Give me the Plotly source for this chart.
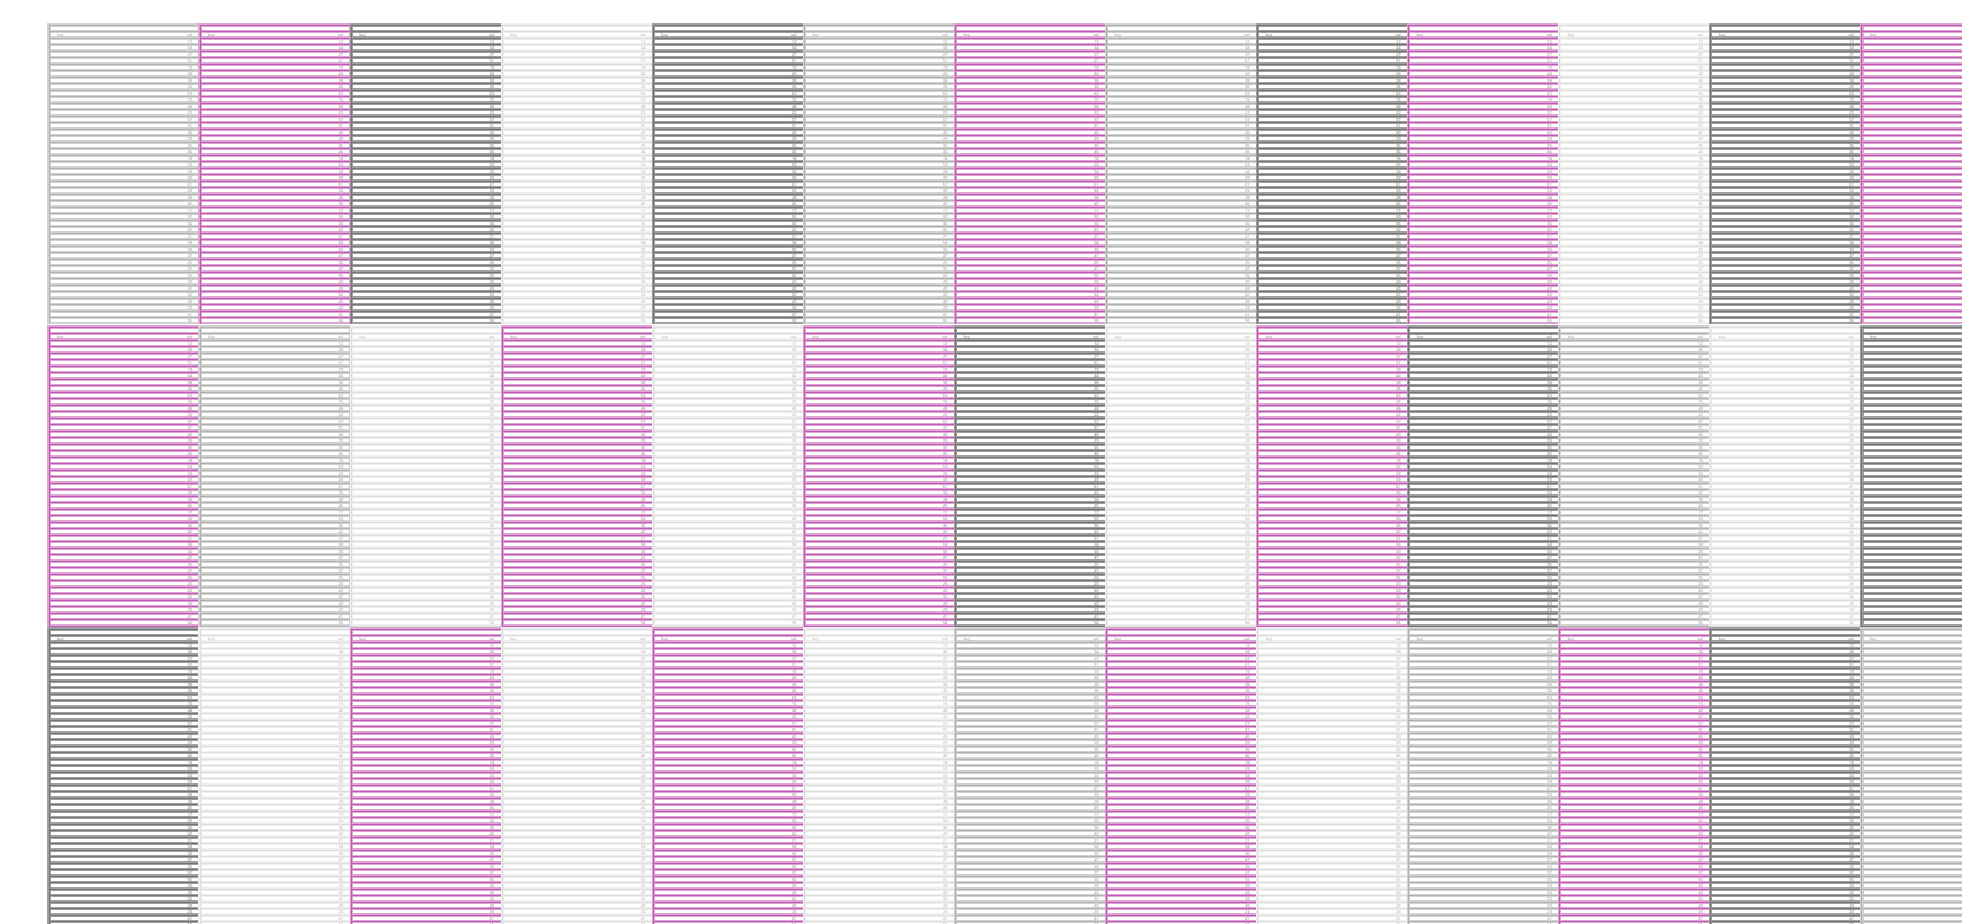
import plotly.graph_objects as go

# ---- data ----
row_labels = ["a01", "a02", "a03", "a04", "a05", "a06", "a07", "a08", "a09", "a10",
              "a11", "a12", "a13", "a14", "a15", "a16", "a17", "a18", "a19", "a20",
              "a21", "a22", "a23", "a24", "a25", "a26", "a27", "a28", "a29", "a30",
              "a31", "a32", "a33", "a34", "a35", "a36", "a37", "a38", "a39", "a40",
              "a41", "a42", "a43", "a44", "a45"]
row_values = ["12", "34", "27", "51", "19", "44", "38", "26", "63", "15",
              "48", "22", "57", "31", "40", "29", "35", "46", "18", "53",
              "24", "39", "61", "33", "28", "45", "17", "50", "36", "42",
              "21", "58", "30", "47", "25", "37", "55", "20", "43", "32",
              "49", "23", "41", "56", "99"]
header_labels = ["key", "val"]

# panel style grid (L = light grey, P = pink, D = dark grey, W = white)
style_grid = ["LPDWDLPLDPWDP",
              "PLWPWPDWPDLWD",
              "DWPWPWLPWLPDL"]

styles = {
    "L": dict(band="#d2d2d2", line="#b2b2b2", font="#8c8c8c"),
    "P": dict(band="#dca6d4", line="#c25ab3", font="#9a6a94"),
    "D": dict(band="#a0a0a0", line="#747474", font="#686868"),
    "W": dict(band="#efefef", line="#dedede", font="#a8a8a8"),
}

W, H = 2062, 960
ml, mr, mt, mb = 41, 57, 17, 37
ph = (H - mt - mb)
ncol = 13
nrow = 3
gap_y = 2
rh = 6.5

fig = go.Figure()
for r in range(nrow):
    for c in range(ncol):
        st = styles[style_grid[r][c]]
        x0 = c / ncol
        x1 = (c + 1) / ncol
        y1 = 1 - r / nrow
        y0 = 1 - (r + 1) / nrow + (gap_y / ph if r < nrow - 1 else 0)
        dom = dict(x=[x0, x1], y=[y0, y1])
        # base table: wide soft row bands + left labels
        fig.add_trace(go.Table(
            domain=dom,
            columnwidth=[1],
            header=dict(values=[header_labels[0]], height=rh, align="left",
                        fill_color="white", line=dict(color=st["band"], width=3.2),
                        font=dict(size=4, color=st["font"])),
            cells=dict(values=[row_labels], height=rh, align="left",
                       fill_color="white", line=dict(color=st["band"], width=3.2),
                       font=dict(size=4, color=st["font"])),
        ))
        # overlay table: thin darker rules + right values
        fig.add_trace(go.Table(
            domain=dom,
            columnwidth=[1],
            header=dict(values=[header_labels[1]], height=rh, align="right",
                        fill_color="rgba(0,0,0,0)", line=dict(color=st["line"], width=1),
                        font=dict(size=4, color=st["font"])),
            cells=dict(values=[row_values], height=rh, align="right",
                       fill_color="rgba(0,0,0,0)", line=dict(color=st["line"], width=1),
                       font=dict(size=4, color=st["font"])),
        ))

fig.update_layout(width=W, height=H, margin=dict(l=ml, r=mr, t=mt, b=mb),
                  paper_bgcolor="white", showlegend=False)
fig.write_html("out.html")
